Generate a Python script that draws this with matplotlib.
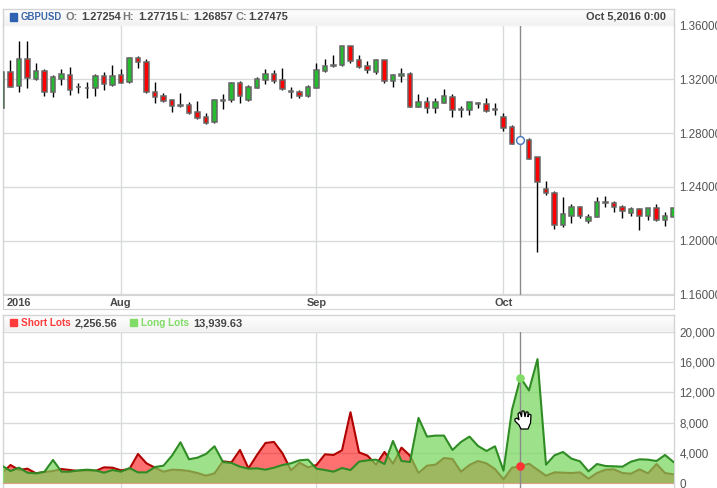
import numpy as np
import matplotlib
matplotlib.use("Agg")
import matplotlib.pyplot as plt
from matplotlib.patches import PathPatch, Rectangle
from matplotlib.path import Path

W, H = 717, 488

# daily GBPUSD candles; index 61 is the hovered bar, not drawn as a candle
opens = [1.2984, 1.3252, 1.3148, 1.3349, 1.3200, 1.3259, 1.3108, 1.3205, 1.3235, 1.3140,
         1.3138, 1.3133, 1.3222, 1.3160, 1.3230, 1.3178, 1.3356, 1.3327, 1.3103, 1.3073,
         1.3044, 1.3007, 1.3007, 1.2955, 1.2922, 1.2880, 1.3041, 1.3044, 1.3170, 1.3049,
         1.3138, 1.3197, 1.3237, 1.3192, 1.3110, 1.3103, 1.3078, 1.3135, 1.3264, 1.3297,
         1.3309, 1.3445, 1.3341, 1.3297, 1.3254, 1.3341, 1.3190, 1.3227, 1.3237, 1.2997,
         1.3029, 1.2989, 1.3026, 1.3066, 1.2969, 1.2974, 1.3016, 1.3014, 1.2969, 1.2917,
         1.2843, np.nan, 1.2746, 1.2620, 1.2388, 1.2358, 1.2120, 1.2184, 1.2251, 1.2145,
         1.2177, 1.2284, 1.2284, 1.2251, 1.2209, 1.2236, 1.2184, 1.2246, 1.2157, 1.2177]
closes = [1.3257, 1.3145, 1.3349, 1.3207, 1.3259, 1.3108, 1.3215, 1.3237, 1.3118, 1.3145,
          1.3133, 1.3222, 1.3163, 1.3222, 1.3175, 1.3356, 1.3327, 1.3103, 1.3066, 1.3041,
          1.3004, 1.3002, 1.2952, 1.2915, 1.2878, 1.3044, 1.3046, 1.3170, 1.3078, 1.3140,
          1.3200, 1.3237, 1.3190, 1.3130, 1.3106, 1.3076, 1.3140, 1.3267, 1.3299, 1.3304,
          1.3445, 1.3339, 1.3294, 1.3272, 1.3344, 1.3187, 1.3232, 1.3237, 1.2997, 1.3029,
          1.2989, 1.3029, 1.3073, 1.2974, 1.2979, 1.3029, 1.3021, 1.2967, 1.2977, 1.2840,
          1.2721, np.nan, 1.2610, 1.2439, 1.2355, 1.2120, 1.2202, 1.2254, 1.2184, 1.2179,
          1.2291, 1.2291, 1.2251, 1.2224, 1.2236, 1.2184, 1.2246, 1.2157, 1.2184, 1.2241]
highs = [1.3257, 1.3344, 1.3485, 1.3485, 1.3319, 1.3277, 1.3230, 1.3277, 1.3294, 1.3170,
         1.3180, 1.3237, 1.3252, 1.3304, 1.3274, 1.3369, 1.3376, 1.3349, 1.3180, 1.3098,
         1.3051, 1.3096, 1.3029, 1.3039, 1.2947, 1.3051, 1.3088, 1.3178, 1.3187, 1.3158,
         1.3215, 1.3277, 1.3269, 1.3282, 1.3140, 1.3120, 1.3160, 1.3319, 1.3354, 1.3379,
         1.3445, 1.3445, 1.3379, 1.3339, 1.3351, 1.3341, 1.3242, 1.3282, 1.3252, 1.3093,
         1.3066, 1.3059, 1.3125, 1.3088, 1.3002, 1.3029, 1.3034, 1.3059, 1.3026, 1.2947,
         1.2860, np.nan, 1.2761, 1.2625, 1.2445, 1.2370, 1.2326, 1.2271, 1.2259, 1.2202,
         1.2326, 1.2333, 1.2298, 1.2262, 1.2249, 1.2244, 1.2246, 1.2276, 1.2214, 1.2241]
lows = [1.2984, 1.3140, 1.3108, 1.3138, 1.3195, 1.3076, 1.3068, 1.3160, 1.3083, 1.3101,
        1.3059, 1.3076, 1.3123, 1.3153, 1.3170, 1.3175, 1.3284, 1.3101, 1.3026, 1.3031,
        1.2959, 1.2997, 1.2939, 1.2907, 1.2868, 1.2878, 1.2982, 1.3034, 1.3026, 1.3039,
        1.3133, 1.3165, 1.3175, 1.3120, 1.3061, 1.3061, 1.3071, 1.3133, 1.3257, 1.3294,
        1.3302, 1.3324, 1.3287, 1.3245, 1.3240, 1.3170, 1.3140, 1.3180, 1.2997, 1.2997,
        1.2952, 1.2947, 1.3026, 1.2917, 1.2917, 1.2937, 1.2984, 1.2957, 1.2937, 1.2818,
        1.2721, np.nan, 1.2605, 1.1918, 1.2343, 1.2085, 1.2102, 1.2132, 1.2167, 1.2132,
        1.2177, 1.2251, 1.2212, 1.2169, 1.2184, 1.2083, 1.2155, 1.2150, 1.2113, 1.2177]

hover_idx = 61
hover_open, hover_high, hover_low, hover_close = 1.27254, 1.27715, 1.26857, 1.27475
hover_short, hover_long = 2256.56, 13939.63

short_lots = [1320, 2420, 1760, 1936, 1320, 1496, 1628, 1892, 1760, 1628,
              1716, 1628, 2112, 2068, 1716, 1892, 3872, 2640, 2068, 1540,
              1804, 1760, 1628, 1364, 1012, 1320, 2904, 2772, 4400, 1980,
              3740, 5324, 5456, 3960, 1716, 2728, 2112, 2420, 3828, 3740,
              4356, 9372, 4092, 3652, 2464, 4136, 2596, 4708, 3652, 1364,
              2332, 2464, 3344, 3212, 1540, 2420, 2948, 2640, 1892, 528,
              2068, hover_short, 2596, 1804, 1012, 1452, 1408, 1364, 1452, 616,
              1364, 1804, 1848, 1364, 1276, 1848, 1320, 2552, 1364, 1188]
long_lots = [2332, 1628, 2068, 1408, 1320, 1540, 3080, 1540, 1540, 1716,
             1804, 1716, 1408, 1760, 1540, 2024, 1452, 1452, 2156, 2332,
             3652, 5412, 3168, 3388, 3872, 4884, 2816, 2684, 2200, 1936,
             1980, 1804, 2068, 2420, 2640, 3036, 3124, 1936, 1760, 1540,
             2024, 1760, 2860, 3036, 3124, 2552, 5588, 2948, 2816, 8624,
             6160, 6292, 6292, 4400, 5456, 6160, 4928, 4268, 4884, 1672,
             9680, hover_long, 12232, 16368, 2464, 3696, 4136, 3256, 2904, 1584,
             2552, 2288, 2244, 2200, 2860, 3168, 3124, 2948, 3740, 2816]

price_ticks = [1.16, 1.20, 1.24, 1.28, 1.32, 1.36]
lot_ticks = [0, 4000, 8000, 12000, 16000, 20000]
month_labels = ["Aug", "Sep", "Oct"]
month_idx = [14, 37, 59]

GRID = "#d8dcd8"
BORDER = "#d4d4d4"
TEXT = "#4a4a4a"
FONT = ["Liberation Sans", "DejaVu Sans"]
plt.rcParams["font.family"] = FONT

fig = plt.figure(figsize=(W / 100, H / 100), dpi=100)


def px_axes(x0, y0, x1, y1, **kw):
    # axes placed by pixel box, y counted from the top of the figure
    return fig.add_axes([x0 / W, 1 - y1 / H, (x1 - x0) / W, (y1 - y0) / H], **kw)


def label(x, y, s, color=TEXT, ha="left", weight="bold", size=7.9):
    fig.text(x / W, 1 - y / H, s, color=color, ha=ha, va="center", fontweight=weight, fontsize=size)


def strip(x0, y0, x1, y1):
    # header bar with a faint vertical gradient
    ax = px_axes(x0, y0, x1, y1)
    ax.imshow(np.linspace(1, 0.945, 32).reshape(-1, 1), aspect="auto", cmap="gray", vmin=0, vmax=1)
    ax.set_xticks([])
    ax.set_yticks([])
    for s in ax.spines.values():
        s.set_color(BORDER)
        s.set_linewidth(1)


def style_panel(ax, ticks, fmt):
    ax.set_xlim(0.06, 79)
    ax.yaxis.tick_right()
    ax.set_yticks(ticks)
    ax.set_yticklabels([fmt(t) for t in ticks], color="#555555", fontsize=8.4)
    ax.tick_params(axis="y", length=0, pad=4.4)
    ax.set_xticks(month_idx)
    ax.set_xticklabels([])
    ax.tick_params(axis="x", length=0)
    ax.grid(True, color=GRID, linewidth=1)
    ax.set_axisbelow(True)
    for s in ax.spines.values():
        s.set_color(BORDER)
        s.set_linewidth(1)
    ax.spines["top"].set_visible(False)


# price panel
strip(2.5, 8.5, 673.5, 25.5)
ax_price = px_axes(2.5, 25.5, 673.5, 294.5)
ax_price.set_ylim(1.16, 1.36)
style_panel(ax_price, price_ticks, lambda t: "%.5f" % t)

x = np.arange(len(opens))
o, c = np.array(opens), np.array(closes)
up = c >= o
body_col = np.where(up, "#25bd2f", "#ff0000")
ax_price.vlines(x, lows, highs, color="black", linewidth=1, zorder=3)
ax_price.bar(x, c - o, bottom=o, width=0.52, color=body_col, edgecolor="#666666", linewidth=1.1, zorder=4)
ax_price.axvline(hover_idx, color="#8a8a8a", linewidth=1, zorder=5)
ax_price.plot([hover_idx], [hover_close], "o", ms=5.6, mfc="white", mec="#4f7cc0", mew=1.1, zorder=6)

# date strip under the price panel
ax_dates = px_axes(2.5, 294.5, 673.5, 308.5)
ax_dates.set_xticks([])
ax_dates.set_yticks([])
for s in ax_dates.spines.values():
    s.set_color(BORDER)
label(6.5, 302.5, "2016")
for m, i in zip(month_labels, month_idx):
    label(2 + 8.5 * i, 302.5, m, ha="center")

# lots panel
strip(2.5, 315, 673.5, 331.5)
ax_lots = px_axes(2.5, 331.5, 673.5, 489)
ax_lots.set_ylim(-740, 20000)
style_panel(ax_lots, lot_ticks, lambda t: format(t, ","))
ax_lots.grid(False, axis="y")
for t in lot_ticks[1:]:
    ax_lots.axhline(t, color=GRID, linewidth=1, zorder=0)
ax_lots.axhline(0, color="#d9a08a", linewidth=0.8, zorder=4)

ax_lots.fill_between(x, short_lots, 0, color="#ff0000", alpha=0.56, linewidth=0, zorder=2)
ax_lots.plot(x, short_lots, color="#b00000", linewidth=1.5, zorder=2)
ax_lots.fill_between(x, long_lots, 0, color="#75d75a", alpha=0.71, linewidth=0, zorder=3)
ax_lots.plot(x, long_lots, color="#2f8c24", linewidth=1.5, zorder=3)
ax_lots.axvline(hover_idx, color="#8a8a8a", linewidth=1, zorder=5)
ax_lots.plot([hover_idx], [hover_long], "o", ms=5.2, color="#80dc66", zorder=6)
ax_lots.plot([hover_idx], [hover_short], "o", ms=5.2, color="#ff3333", zorder=6)

# header of the price panel
fig.patches.append(Rectangle((9.5 / W, 1 - 20.5 / H), 7 / W, 7 / H, transform=fig.transFigure, color="#2f62b0"))
label(21, 16.5, "GBPUSD", color="#3b68a8", size=6.9)
grey, dark = "#777777", "#444444"
for xp, s, col in [(65, "O:", grey), (81, "%.5f" % hover_open, dark), (122, "H:", grey), (138, "%.5f" % hover_high, dark),
                   (179, "L:", grey), (193, "%.5f" % hover_low, dark), (235, "C:", grey), (248, "%.5f" % hover_close, dark)]:
    label(xp, 16.5, s, color=col)
label(666, 16.5, "Oct 5,2016 0:00", color=dark, ha="right")

# header of the lots panel
fig.patches.append(Rectangle((9.5 / W, 1 - 326 / H), 7 / W, 7 / H, transform=fig.transFigure, color="#ff3b3b"))
label(21, 323.5, "Short Lots", color="#ff3b3b", size=7.2)
label(75, 323.5, format(hover_short, ",.2f"), color=dark)
fig.patches.append(Rectangle((129.5 / W, 1 - 326 / H), 7 / W, 7 / H, transform=fig.transFigure, color="#80dc66"))
label(141, 323.5, "Long Lots", color="#80dc66", size=7.2)
label(193, 323.5, format(hover_long, ",.2f"), color=dark)

# mouse pointer resting over the lots panel
hand = [(519, 425), (515, 421), (515, 419), (517, 418), (519, 420), (518, 414), (520, 412), (521.5, 417), (522, 411),
        (524, 411), (525, 417), (526, 412), (528, 412), (528, 417), (529, 414), (531, 415), (530.5, 423), (528, 429),
        (521, 429), (519, 425)]
hand_px = [(a / W, 1 - b / H) for a, b in hand]
fig.patches.append(PathPatch(Path(hand_px, closed=True), transform=fig.transFigure, fc="white", ec="black", lw=0.9, zorder=10))

fig.savefig("out.png", dpi=100, facecolor="white")
